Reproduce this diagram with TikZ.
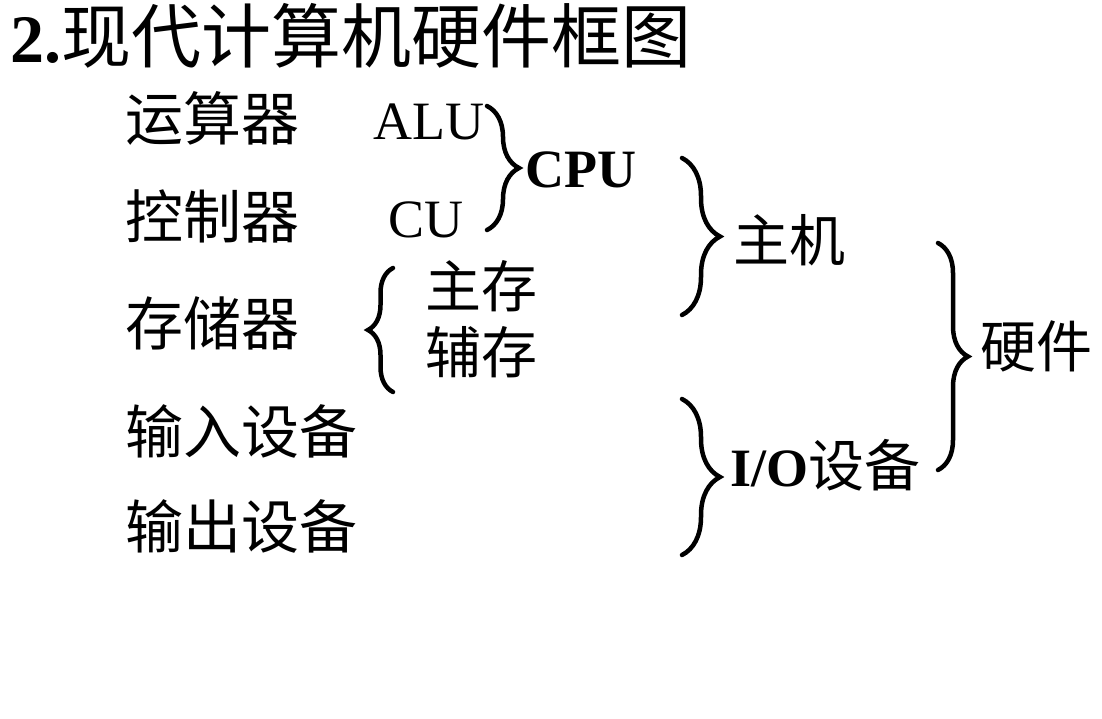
\documentclass[tikz,border=0pt]{standalone}
\usepackage{fontspec}
\setmainfont{Liberation Serif}
\newfontfamily\cjk{Noto Sans CJK SC}
\usetikzlibrary{decorations.pathreplacing}
\begin{document}
\begin{tikzpicture}[x=1pt,y=-1pt,
  lbl/.style={anchor=west,inner sep=0pt,font=\cjk\fontsize{58}{58}\selectfont},
  lat/.style={anchor=west,inner sep=0pt,font=\fontsize{54}{54}\selectfont},
  bracestyle/.style={decorate,decoration={brace,amplitude=#1},line width=4.5pt,line cap=round},
]
\useasboundingbox[fill=white] (0,0) rectangle (1102,718);
\node[anchor=west,inner sep=0pt] (title) at (10,36)
  {\fontsize{68}{68}\selectfont\bfseries 2.\cjk\fontsize{70}{70}\selectfont\mdseries 现代计算机硬件框图};
\node[lbl] (alu) at (125,118) {运算器};
\node[lbl] (cu) at (125,216) {控制器};
\node[lbl] (mem) at (125,323) {存储器};
\node[lbl] (in) at (125,431) {输入设备};
\node[lbl] (out) at (125,526) {输出设备};
\node[lat] (aluE) at (373,122) {ALU};
\node[lat] (cuE) at (388,220) {CU};
\node[lat,font=\fontsize{54}{54}\selectfont\bfseries] (cpu) at (525,170) {CPU};
\node[lbl,font=\cjk\fontsize{56}{56}\selectfont] (zhu) at (425,286) {主存};
\node[lbl,font=\cjk\fontsize{56}{56}\selectfont] (fu) at (425,352) {辅存};
\node[lbl,font=\cjk\fontsize{56}{56}\selectfont] (host) at (733,240) {主机};
\node[lbl,font=\fontsize{54}{54}\selectfont\bfseries] (io) at (730,465) {I/O{\cjk\mdseries\fontsize{56}{56}\selectfont 设备}};
\node[lbl,font=\cjk\fontsize{56}{56}\selectfont] (hw) at (980,346) {硬件};
% brace end points
\coordinate (b1t) at (487,106); \coordinate (b1b) at (487,230);
\coordinate (b2t) at (682,158); \coordinate (b2b) at (682,315);
\coordinate (b3t) at (393,268); \coordinate (b3b) at (393,392);
\coordinate (b4t) at (682,399); \coordinate (b4b) at (682,555);
\coordinate (b5t) at (938,243); \coordinate (b5b) at (938,470);
\draw[bracestyle=32] (b1t) -- (b1b);
\draw[bracestyle=38] (b2t) -- (b2b);
\draw[bracestyle=25] (b3b) -- (b3t);
\draw[bracestyle=38] (b4t) -- (b4b);
\draw[bracestyle=30] (b5t) -- (b5b);
\end{tikzpicture}
\end{document}
